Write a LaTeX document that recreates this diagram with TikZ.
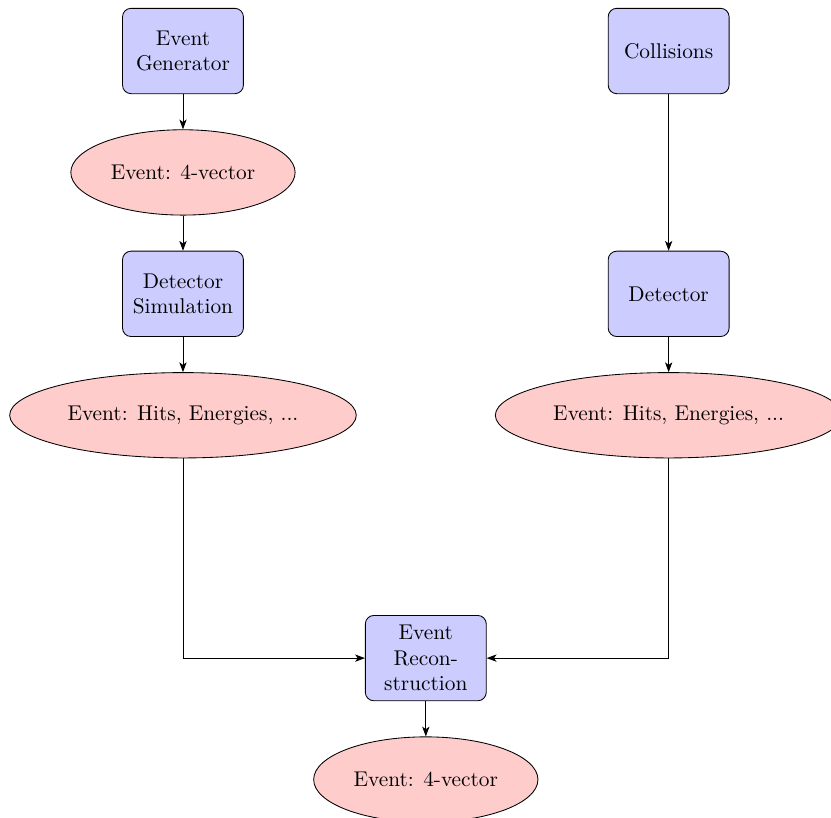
\documentclass[tikz,border=0pt]{standalone}
\usepackage{tikz}
\usetikzlibrary{arrows.meta,shapes.geometric}
\newcommand{\XSim}{0}
\newcommand{\XData}{8}
\newcommand{\XReco}{4}
\newcommand{\RowSep}{2}
\colorlet{BlockColor}{blue!20}
\colorlet{CloudColor}{red!20}

\begin{document}
\begin{tikzpicture}[
  >={Stealth[length=4.6pt,width=3.4pt,inset=1.2pt]},
  block/.style={rectangle,draw,fill=BlockColor,text width=5em,align=center,
    rounded corners,minimum height=4em},
  cloud/.style={ellipse,draw,fill=CloudColor,minimum height=4em},
  line/.style={draw,->}
]
\useasboundingbox (-85.75pt,-359.4pt) rectangle (303.7pt,23.9pt);

% Simulation chain
\node[block] (gen)   at (\XSim,0)          {Event Generator};
\node[cloud] (vec1)  at (\XSim,-\RowSep)   {Event: 4-vector};
\node[block] (sim)   at (\XSim,-2*\RowSep) {Detector Simulation};
\node[cloud] (hits1) at (\XSim,-3*\RowSep) {Event: Hits, Energies, ...};

% Data chain
\node[block] (coll)  at (\XData,0)          {Collisions};
\node[block] (det)   at (\XData,-2*\RowSep) {Detector};
\node[cloud] (hits2) at (\XData,-3*\RowSep) {Event: Hits, Energies, ...};

% Reconstruction
\node[block] (reco)  at (\XReco,-5*\RowSep) {Event Recon\-struction};
\node[cloud] (vec2)  at (\XReco,-6*\RowSep) {Event: 4-vector};

% Connections
\path[line] (gen) -- (vec1);
\path[line] (vec1) -- (sim);
\path[line] (sim) -- (hits1);
\path[line] (coll) -- (det);
\path[line] (det) -- (hits2);
\path[line] (hits1) |- (reco);
\path[line] (hits2) |- (reco);
\path[line] (reco) -- (vec2);

\end{tikzpicture}
\end{document}
